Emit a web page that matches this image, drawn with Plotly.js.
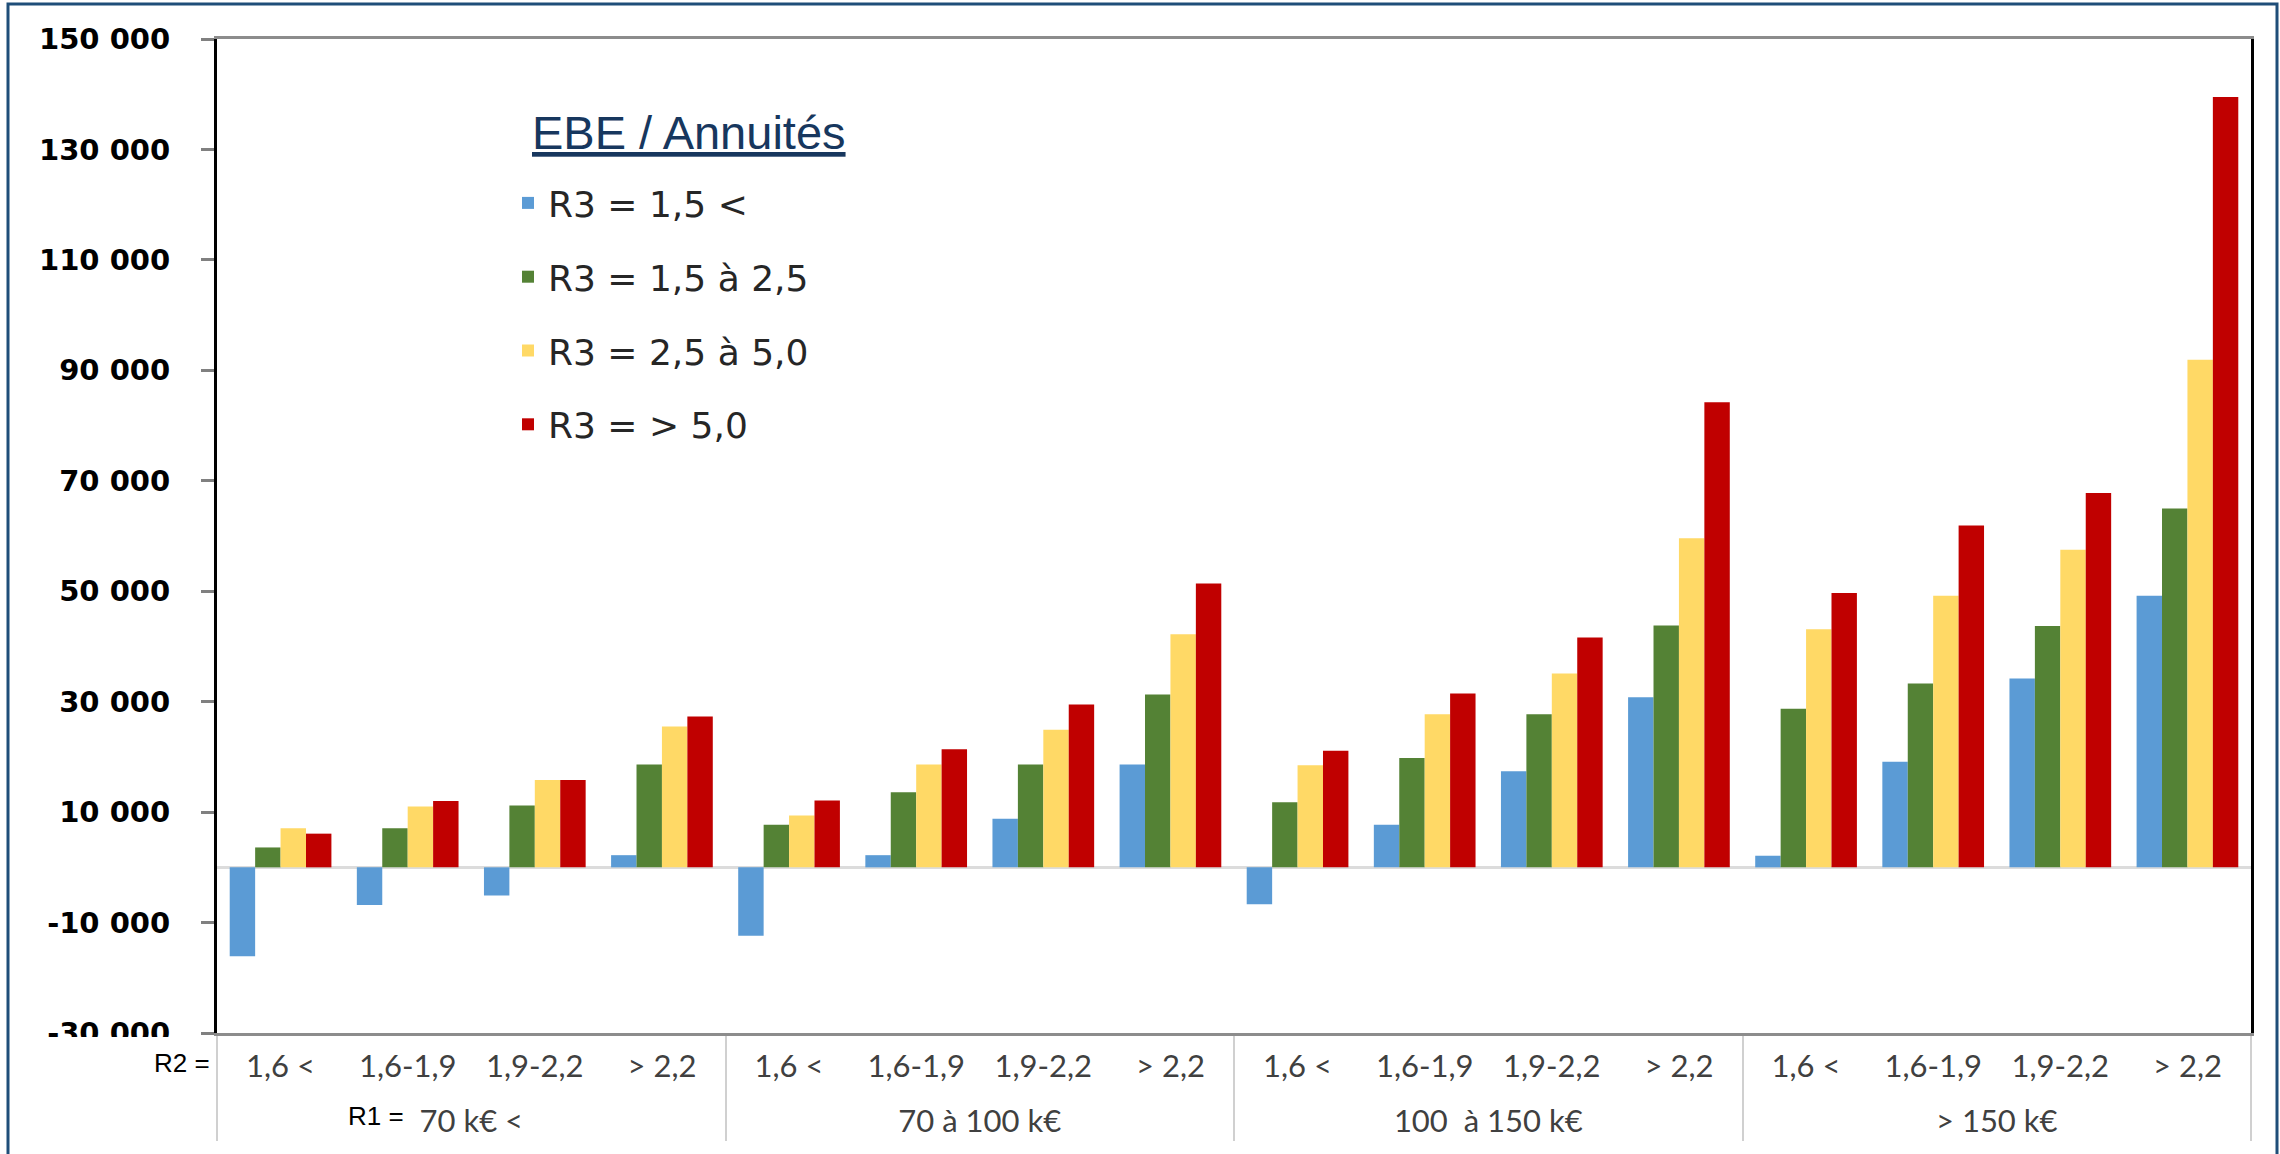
<!DOCTYPE html>
<html>
<head>
<meta charset="utf-8">
<script src="https://cdn.plot.ly/plotly-3.0.1.min.js"></script>
<style>
  html, body { margin: 0; padding: 0; background: #ffffff; }
  #chart { width: 2280px; height: 1154px; }
</style>
</head>
<body>
<div id="chart"></div>
<script>
// ---- Data ----
const r1Labels = ['70 k€ <', '70 à 100 k€', '100\u00a0 à 150 k€', '> 150 k€'];
const r2Labels = ['1,6 <', '1,6-1,9', '1,9-2,2', '> 2,2'];

const seriesNames = ['R3 = 1,5 <', 'R3 = 1,5 à 2,5', 'R3 = 2,5 à 5,0', 'R3 = > 5,0'];
const seriesColors = ['#5b9bd5', '#548235', '#ffd966', '#c00000'];

const r3Low     = [-16100, -6800, -5100, 2200, -12400, 2200, 8800, 18600, -6700, 7700, 17400, 30800, 2100, 19100, 34200, 49200];
const r3Mid     = [3600, 7100, 11200, 18600, 7700, 13600, 18600, 31300, 11800, 19800, 27700, 43800, 28700, 33300, 43700, 65000];
const r3High    = [7100, 11000, 15800, 25500, 9400, 18600, 24900, 42200, 18500, 27700, 35100, 59600, 43100, 49200, 57500, 91900];
const r3VeryHigh= [6100, 12000, 15800, 27300, 12100, 21400, 29500, 51400, 21100, 31500, 41600, 84200, 49700, 61900, 67800, 139500];

const yTickVals = [150000, 130000, 110000, 90000, 70000, 50000, 30000, 10000, -10000, -30000];
const yTickText = ['150 000', '130 000', '110 000', '90 000', '70 000', '50 000', '30 000', '10 000', '-10 000', '-30 000'];

// ---- Build multicategory x ----
// a tall invisible space on each side of the inner labels makes the label row taller,
// which pushes the outer (R1) row further down, as in the reference
const innerPad = '<span style="font-size:48px"> </span>';
const xOuter = [], xInner = [];
r1Labels.forEach(r1 => r2Labels.forEach(r2 => { xOuter.push(r1); xInner.push(innerPad + r2 + innerPad); }));

const allSeries = [r3Low, r3Mid, r3High, r3VeryHigh];
const traces = allSeries.map((vals, i) => ({
  type: 'bar',
  name: seriesNames[i],
  legendgroup: 'g' + i,
  x: [xOuter, xInner],
  y: vals,
  marker: { color: seriesColors[i], line: { width: 0 } },
  hoverinfo: 'y+name'
}));

const W = 2280, H = 1154;
const mL = 217, mR = 29, mT = 39, mB = 121;
const pw = W - mL - mR, ph = H - mT - mB;
const px = v => (v - mL) / pw;          // pixel x -> paper x
const py = v => (H - mB - v) / ph;      // pixel y -> paper y

const layout = {
  width: W, height: H,
  margin: { l: mL, r: mR, t: mT, b: mB, pad: 0 },
  paper_bgcolor: '#ffffff',
  plot_bgcolor: '#ffffff',
  barmode: 'group',
  bargap: 0.2,
  bargroupgap: 0,
  showlegend: true,
  legend: {
    x: px(508), y: py(173), xanchor: 'left', yanchor: 'top',
    bgcolor: 'rgba(0,0,0,0)',
    font: { family: 'DejaVu Sans', size: 36, color: '#262626' },
    itemwidth: 30,
    tracegroupgap: 24,
    traceorder: 'grouped'
  },
  xaxis: {
    type: 'multicategory',
    showline: true, linecolor: '#8c8c8c', linewidth: 3, mirror: true,
    ticks: '',
    tickangle: 0,
    ticklabelstandoff: 4,
    showgrid: false,
    showdividers: true, dividercolor: '#d0d0d0', dividerwidth: 2,
    tickfont: { family: 'Lato, "Liberation Sans", sans-serif', size: 31, color: '#404040' }
  },
  yaxis: {
    range: [-30000, 150000],
    tickvals: yTickVals, ticktext: yTickText,
    showline: true, linecolor: '#000000', linewidth: 3, mirror: true,
    ticks: 'outside', ticklen: 13, tickwidth: 3, tickcolor: '#808080',
    ticklabelstandoff: 25,
    showgrid: false,
    zeroline: true, zerolinecolor: '#dcdcdc', zerolinewidth: 3,
    tickfont: { family: 'DejaVu Sans', size: 29, color: '#000000', weight: 'bold' }
  },
  shapes: [
    // outer dark blue frame
    { type: 'rect', xref: 'paper', yref: 'paper', layer: 'above',
      x0: px(8), x1: px(2277), y0: py(1170), y1: py(4),
      line: { color: '#1f4e79', width: 3 }, fillcolor: 'rgba(0,0,0,0)' },
    // white box partially masking the lowest tick label (as in reference)
    { type: 'rect', xref: 'paper', yref: 'paper', layer: 'above',
      x0: px(30), x1: px(201), y0: py(1082), y1: py(1037),
      line: { width: 0 }, fillcolor: '#ffffff' }
  ],
  annotations: [
    { text: '<u>EBE / Annuités</u>', xref: 'paper', yref: 'paper',
      x: px(530), y: py(132), xanchor: 'left', yanchor: 'middle', showarrow: false,
      font: { family: '"Liberation Sans", Arial, sans-serif', size: 47, color: '#17375e' } },
    { text: 'R2 =', xref: 'paper', yref: 'paper',
      x: px(152), y: py(1063), xanchor: 'left', yanchor: 'middle', showarrow: false,
      font: { family: '"Liberation Sans", Arial, sans-serif', size: 26, color: '#000000' } },
    { text: 'R1 =', xref: 'paper', yref: 'paper',
      x: px(346), y: py(1116), xanchor: 'left', yanchor: 'middle', showarrow: false,
      font: { family: '"Liberation Sans", Arial, sans-serif', size: 26, color: '#000000' } }
  ]
};

Plotly.newPlot('chart', traces, layout, { staticPlot: true, displayModeBar: false });
</script>
</body>
</html>
